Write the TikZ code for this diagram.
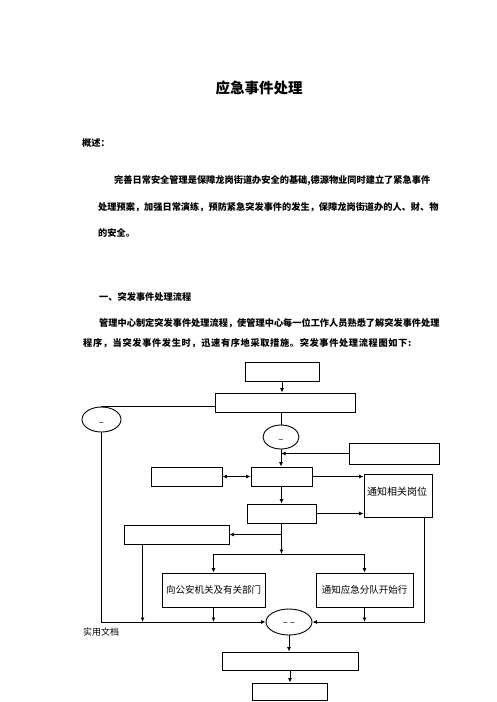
\documentclass[tikz,border=0pt]{standalone}
\usepackage{fontspec}
\setmainfont{Liberation Sans}
\newfontfamily\cjk{Noto Sans CJK SC}
\newfontfamily\cjkwide{Noto Sans CJK SC}[LetterSpace=7]
\usetikzlibrary{arrows.meta,shapes.geometric,calc}
\tikzset{
  txt/.style={inner sep=0pt,anchor=west,font=\cjk\bfseries\fontsize{9.2pt}{9.2pt}\selectfont},
  box/.style={draw,line width=0.9pt,rectangle,inner sep=0pt},
  oval/.style={draw,line width=0.9pt,ellipse,inner sep=0pt},
  boxtxt/.style={inner sep=0pt,font=\cjk\fontsize{9.5pt}{9.5pt}\selectfont},
  con/.style={line width=0.9pt},
  arr/.style={line width=0.9pt,-{Latex[length=4.5pt,width=4pt]}},
  darr/.style={line width=0.9pt,{Latex[length=4.5pt,width=4pt]}-{Latex[length=4.5pt,width=4pt]}}
}
\begin{document}
\begin{tikzpicture}[x=1pt,y=-1pt]
\useasboundingbox (0,0) rectangle (496,702);
\fill[white] (0,0) rectangle (496,702);

% text
\node[inner sep=0pt,font=\cjk\bfseries\fontsize{14.5pt}{14.5pt}\selectfont] (title) at (259,88) {应急事件处理};
\node[txt] (gs) at (82,143) {概述：};
\node[txt] (p1) at (114,181) {完善日常安全管理是保障龙岗街道办安全的基础,德源物业同时建立了紧急事件};
\node[txt] (p2) at (98,207) {处理预案，加强日常演练，预防紧急突发事件的发生，保障龙岗街道办的人、财、物};
\node[txt] (p3) at (98,233) {的安全。};
\node[txt] (h1) at (99,297) {一、突发事件处理流程};
\node[txt] (q1) at (99,323) {管理中心制定突发事件处理流程，使管理中心每一位工作人员熟悉了解突发事件处理};
\node[txt,font=\cjkwide\bfseries\fontsize{9.2pt}{9.2pt}\selectfont] (q2) at (83,343) {程序，当突发事件发生时，迅速有序地采取措施。突发事件处理流程图如下:};

% flow chart nodes
\node[box,minimum width=74pt,minimum height=19pt] (A) at (282,371.5) {};
\node[box,minimum width=140pt,minimum height=19pt] (B) at (285,402.5) {};
\node[oval,minimum width=39pt,minimum height=25pt] (L) at (101.5,419.5) {};
\node[boxtxt] (Ld) at (101.5,424.5) {–};
\node[oval,minimum width=36pt,minimum height=24pt] (M1) at (281,437) {};
\node[boxtxt] (M1d) at (281,441) {–};
\node[box,minimum width=90pt,minimum height=21pt] (C) at (394,453.5) {};
\node[box,minimum width=61pt,minimum height=19pt] (D) at (281.5,476.5) {};
\node[box,minimum width=71pt,minimum height=19pt] (E) at (186.5,476.5) {};
\node[box,minimum width=68pt,minimum height=43pt] (F) at (398,495.5) {};
\node[boxtxt,font=\cjk\fontsize{10pt}{10pt}\selectfont] (Ft) at (397,492) {通知相关岗位};
\node[box,minimum width=69pt,minimum height=19pt] (G) at (281.5,513.5) {};
\node[box,minimum width=105pt,minimum height=19pt] (H) at (176.5,534.5) {};
\node[box,minimum width=103pt,minimum height=34pt] (I) at (213.5,590) {};
\node[boxtxt] (It) at (213.5,590) {向公安机关及有关部门};
\node[box,minimum width=97pt,minimum height=34pt] (J) at (364.5,590) {};
\node[boxtxt] (Jt) at (364.5,590) {通知应急分队开始行};
\node[oval,minimum width=46pt,minimum height=26pt] (M2) at (289,622) {};
\node[boxtxt] (M2d) at (289,624) {– –};
\node[box,minimum width=136pt,minimum height=18pt] (K) at (290,661) {};
\node[box,minimum width=75pt,minimum height=17pt] (L2) at (290,691.5) {};
\node[inner sep=0pt,font=\cjk\fontsize{9pt}{9pt}\selectfont] (doc) at (101,632) {实用文档};

% helper coordinates
\coordinate (T) at (281.5,554);
\coordinate (Hb) at ([xshift=19pt]H.south west);
\coordinate (Fb) at ([xshift=-8pt]F.south east);

% connectors
\draw[arr] (A.south) -- (A.south |- B.north);
\draw[con] ([yshift=-3.5pt]B.west) -| (L.north);
\draw[arr] (L.south) |- (M2.west);
\draw[con] (M1.north |- B.south) -- (M1.north);
\draw[arr] (C.west) -- (M1.center |- C.west);
\draw[arr] (M1.south) -- (M1.south |- D.north);
\draw[darr] (E.east) -- (D.west);
\draw[arr] (D.east) -- (D.east -| F.west);
\draw[arr] (D.south) -- (G.north);
\draw[arr] (G.east) -- (G.east -| F.west);
\draw[arr] (G.south) -- (T);
\draw[arr] (G.south |- H.east) -- (H.east);
\draw[con] (I.north |- T) -- (J.north |- T);
\draw[arr] (I.north |- T) -- (I.north);
\draw[arr] (J.north |- T) -- (J.north);
\draw[arr] (Hb) -- (Hb |- M2);
\draw[arr] (I.south) -- (I.south |- M2);
\draw[arr] (J.south) -- (J.south |- M2);
\draw[arr] (Fb) |- (M2.east);
\draw[arr] (M2.south) -- (M2.south |- K.north);
\draw[arr] (K.south) -- (L2.north);
\end{tikzpicture}
\end{document}
